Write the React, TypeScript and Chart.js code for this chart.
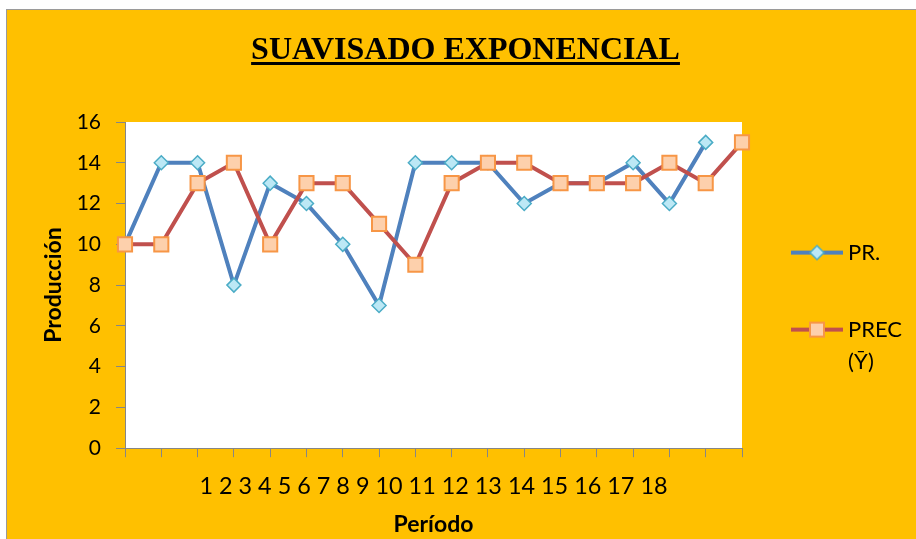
import React, { useEffect, useRef } from 'react';
import { Chart, registerables } from 'chart.js';

Chart.register(...registerables);

const chartTitle = 'SUAVISADO EXPONENCIAL';
const yAxisTitle = 'Producción';
const xAxisTitle = 'Período';
const periods = ['1', '2', '3', '4', '5', '6', '7', '8', '9', '10', '11', '12', '13', '14', '15', '16', '17', '18'];
const prValues = [10, 14, 14, 8, 13, 12, 10, 7, 14, 14, 14, 12, 13, 13, 14, 12, 15, null];
const precValues = [10, 10, 13, 14, 10, 13, 13, 11, 9, 13, 14, 14, 13, 13, 13, 14, 13, 15];
const seriesNames = ['PR.', 'PREC (Ȳ)'];
const yMin = 0;
const yMax = 16;
const yStep = 2;

const BLUE = '#4F81BD';
const RED = '#C0504D';
const DIAMOND_FILL = '#BCE8F5';
const DIAMOND_STROKE = '#4BACC6';
const SQUARE_FILL = '#FDD0AC';
const SQUARE_STROKE = '#F79646';

const TITLE_SIZE = 32;
const TITLE_PAD_TOP = 21.8;
const TITLE_PAD_BOTTOM = 51.8;

function makeLegendImage(lineColor: string, marker: 'diamond' | 'square', fill: string, stroke: string, sw: number) {
  const c = document.createElement('canvas');
  c.width = 52;
  c.height = 20;
  const g = c.getContext('2d')!;
  g.fillStyle = lineColor;
  g.fillRect(0, 8, 52, 4);
  g.beginPath();
  if (marker === 'diamond') {
    g.moveTo(19, 10);
    g.lineTo(26, 3);
    g.lineTo(33, 10);
    g.lineTo(26, 17);
    g.closePath();
  } else {
    g.rect(19, 3, 14, 14);
  }
  g.fillStyle = fill;
  g.fill();
  g.lineWidth = sw;
  g.strokeStyle = stroke;
  g.stroke();
  return c;
}

export default function App() {
  const ref = useRef<HTMLCanvasElement | null>(null);

  useEffect(() => {
    if (!ref.current) return;
    const legendImgs = [
      makeLegendImage(BLUE, 'diamond', DIAMOND_FILL, DIAMOND_STROKE, 1.5),
      makeLegendImage(RED, 'square', SQUARE_FILL, SQUARE_STROKE, 2),
    ];
    const mctx = document.createElement('canvas').getContext('2d')!;
    mctx.font = '22px Lato';
    const longest = seriesNames
      .map((s) => s.split(' '))
      .flat()
      .reduce((a, b) => (a.length >= b.length ? a : b));
    const textW = mctx.measureText(longest).width;
    const legendPad = 55;
    const padR = 910 - 735 - (legendPad + 40 + 11 + textW + 10);

    const chartAreaBg = {
      id: 'chartAreaBg',
      beforeDraw(chart: any) {
        const { ctx, chartArea } = chart;
        ctx.save();
        ctx.fillStyle = '#FFFFFF';
        ctx.fillRect(chartArea.left, chartArea.top, chartArea.right - chartArea.left, chartArea.bottom - chartArea.top);
        ctx.restore();
      },
    };
    const titleUnderline = {
      id: 'titleUnderline',
      afterDraw(chart: any) {
        const tb = chart.titleBlock;
        if (!tb) return;
        const ctx = chart.ctx;
        ctx.save();
        ctx.font = `bold ${TITLE_SIZE}px "Liberation Serif"`;
        const w = ctx.measureText(chartTitle).width;
        const cx = (tb.left + tb.right) / 2;
        const cy = tb.top + TITLE_PAD_TOP + (TITLE_SIZE * 1.2) / 2;
        ctx.fillStyle = '#000';
        ctx.fillRect(cx - w / 2, cy + 11, w, 3);
        ctx.restore();
      },
    };

    const chart = new Chart(ref.current, {
      type: 'line',
      data: {
        labels: periods,
        datasets: [
          {
            label: seriesNames[0],
            data: prValues,
            borderColor: BLUE,
            borderWidth: 4,
            backgroundColor: DIAMOND_FILL,
            pointStyle: 'rectRot',
            pointRadius: 7,
            pointHoverRadius: 7,
            pointBackgroundColor: DIAMOND_FILL,
            pointBorderColor: DIAMOND_STROKE,
            pointBorderWidth: 1.5,
            tension: 0,
            order: 2,
          },
          {
            label: seriesNames[1],
            data: precValues,
            borderColor: RED,
            borderWidth: 4,
            backgroundColor: SQUARE_FILL,
            pointStyle: 'rect',
            pointRadius: 10,
            pointHoverRadius: 10,
            pointBackgroundColor: SQUARE_FILL,
            pointBorderColor: SQUARE_STROKE,
            pointBorderWidth: 2,
            tension: 0,
            order: 1,
          },
        ],
      },
      options: {
        animation: false,
        responsive: true,
        maintainAspectRatio: false,
        layout: { padding: { left: 12, right: padR, top: 0, bottom: 0 } },
        scales: {
          x: {
            type: 'category',
            offset: false,
            grid: { drawOnChartArea: false, drawTicks: true, tickLength: 9, tickColor: '#868686' },
            border: { color: '#868686', width: 1 },
            ticks: { display: false },
            title: {
              display: true,
              text: periods.join(' '),
              color: '#000',
              font: { family: 'Lato', size: 23.4, lineHeight: 1.2 },
              padding: { top: 0, bottom: 3 },
            },
            afterFit(scale: any) {
              scale.height = 55;
            },
          },
          y: {
            min: yMin,
            max: yMax,
            grid: { drawOnChartArea: false, drawTicks: true, tickLength: 9, tickColor: '#868686' },
            border: { color: '#868686', width: 1 },
            ticks: {
              stepSize: yStep,
              color: '#000',
              padding: 15,
              font: { family: 'Lato', size: 21 },
            },
            title: {
              display: true,
              text: yAxisTitle,
              color: '#000',
              font: { family: 'Lato', size: 23, weight: 'bold', lineHeight: 1.2 },
              padding: { top: 20.5, bottom: 0 },
            },
            afterFit(scale: any) {
              scale.width = 106;
            },
          },
        },
        plugins: {
          title: {
            display: true,
            text: chartTitle,
            color: '#000',
            font: { family: 'Liberation Serif', size: TITLE_SIZE, weight: 'bold', lineHeight: 1.2 },
            padding: { top: TITLE_PAD_TOP, bottom: TITLE_PAD_BOTTOM },
          },
          subtitle: {
            display: true,
            text: xAxisTitle,
            position: 'bottom',
            fullSize: false,
            color: '#000',
            font: { family: 'Lato', size: 23, weight: 'bold', lineHeight: 1.2 },
            padding: { top: 7.2, bottom: 2 },
          },
          legend: {
            display: true,
            position: 'right',
            fullSize: false,
            align: 'center',
            title: {
              display: true,
              text: '',
              font: { family: 'Lato', size: 22, lineHeight: 1.2 },
              padding: 13.7,
            },
            labels: {
              usePointStyle: true,
              pointStyleWidth: 40,
              padding: legendPad,
              color: '#000',
              font: { family: 'Lato', size: 22, lineHeight: 1.45 },
              generateLabels: (ch: any) =>
                ch.data.datasets.map((ds: any, i: number) => ({
                  text: ds.label.includes(' ') ? ds.label.split(' ') : ds.label,
                  fillStyle: ds.backgroundColor,
                  strokeStyle: ds.borderColor,
                  lineWidth: 0,
                  pointStyle: legendImgs[i],
                  hidden: false,
                  datasetIndex: i,
                  fontColor: '#000',
                })),
            },
          },
          tooltip: { enabled: false },
        },
      } as any,
      plugins: [chartAreaBg, titleUnderline],
    });
    return () => chart.destroy();
  }, []);

  return (
    <div style={{ position: 'fixed', left: 0, top: 0, width: 916, height: 539, overflow: 'hidden', background: '#fff' }}>
      <div
        style={{
          position: 'absolute',
          left: 6,
          top: 9,
          width: 920,
          height: 540,
          border: '1px solid #9a9a9a',
          background: '#FFC000',
        }}
      >
        <div style={{ position: 'absolute', left: 0, top: 0, width: 910, height: 530 }}>
          <canvas ref={ref} />
        </div>
      </div>
    </div>
  );
}
